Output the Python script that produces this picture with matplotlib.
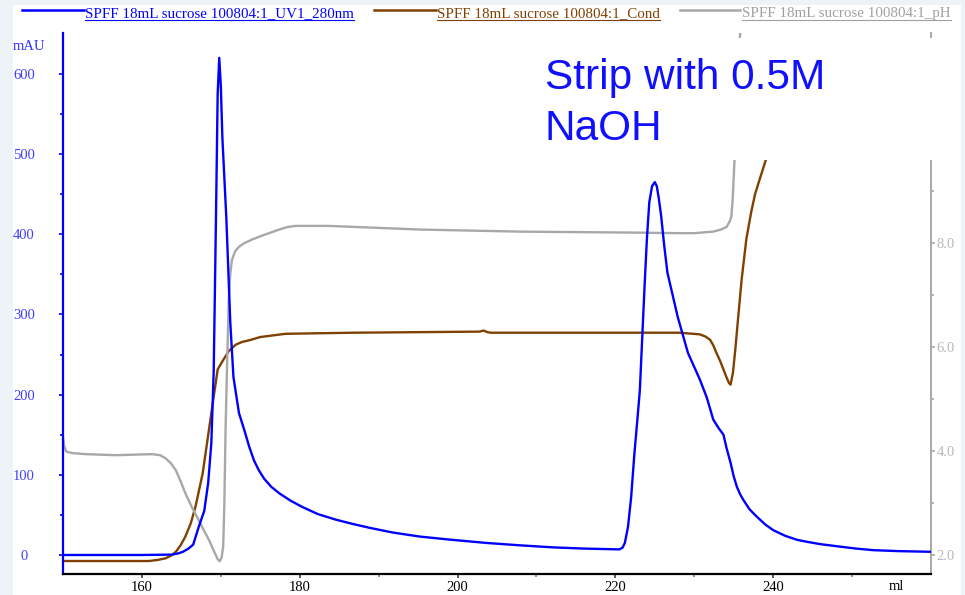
import matplotlib
matplotlib.use('Agg')
import matplotlib.pyplot as plt
from matplotlib.lines import Line2D
from matplotlib.patches import Rectangle

# UV 280 nm trace (ml, mAU)
uv_ml = [150, 160, 163.8, 164.6, 165.2, 165.9, 166.5, 167.2, 167.9, 168.4,
         168.8, 169.1, 169.4, 169.6, 169.8, 170.0, 170.2, 170.7, 171.2, 171.6,
         172.3, 173.0, 173.6, 174.2, 174.8, 175.5, 176.4, 177.4, 178.8, 180.3,
         182.3, 184.6, 186.6, 188.8, 191.8, 195.2, 199.2, 203.7, 208.0, 212.1,
         216.0, 220.5, 220.9, 221.2, 221.6, 222.0, 222.4, 222.8, 223.1, 223.4,
         223.7, 224.0, 224.3, 224.65, 225.0, 225.25, 225.5, 225.8, 226.2, 226.6,
         227.9, 229.2, 230.7, 231.6, 232.4, 233.1, 233.7, 234.1, 234.6, 235.0,
         235.4, 235.8, 236.2, 237.0, 237.9, 239.0, 240.0, 241.5, 243.0, 244.2,
         246.0, 248.5, 250.5, 252.7, 256.0, 260.0]
uv_mau = [0, 0, 0.5, 2, 4, 8, 13, 35, 55, 90,
          140, 230, 430, 575, 620, 585, 520, 420, 290, 222,
          177, 155, 135, 118, 106, 95, 85, 77, 68, 60,
          51, 44, 39, 34, 28, 23, 19, 15, 12, 9.5,
          8, 7, 9, 15, 35, 72, 125, 170, 205, 270,
          335, 395, 440, 460, 465, 460, 445, 423, 385, 352,
          297, 252, 219, 196, 169, 158, 150, 133, 115, 98,
          85, 76, 69, 57, 48, 38, 31, 24, 19, 16.6,
          13.5, 10.4, 8, 6, 4.8, 4]

# conductivity trace (ml, relative units on its own hidden 0-100 scale)
cond_ml = [150, 160.9, 162.0, 163.0, 163.7, 164.3, 164.9, 165.5, 166.2, 166.8,
           167.7, 168.5, 169.1, 169.6, 170.2, 171.0, 171.9, 172.7, 173.6, 175.0,
           178.2, 186.7, 202.8, 203.3, 203.8, 204.2, 223.1, 228.1, 230.7, 231.4,
           232.0, 232.4, 232.8, 233.3, 233.7, 234.1, 234.4, 234.6, 234.9, 235.2,
           235.5, 236.0, 236.6, 237.2, 237.7, 238.3, 239.1, 240.5]
cond_val = [2.4, 2.4, 2.6, 2.9, 3.4, 4.1, 5.3, 6.9, 9.4, 12.5,
            18.6, 26.7, 32.8, 37.8, 39.3, 41.2, 42.4, 42.9, 43.2, 43.8,
            44.4, 44.6, 44.8, 45.0, 44.7, 44.6, 44.6, 44.6, 44.3, 43.9,
            43.3, 42.3, 40.9, 39.3, 37.8, 36.3, 35.3, 35.0, 37.2, 41.5,
            46.4, 54.4, 61.9, 66.8, 70.2, 73.0, 76.7, 84.0]

# pH trace (ml, pH)
ph_ml = [150.0, 150.15, 150.4, 151.2, 152.9, 156.7, 161.3, 162.3, 163.0, 163.7,
         164.3, 164.9, 165.5, 166.3, 167.2, 167.9, 168.5, 169.2, 169.6, 169.85,
         170.1, 170.3, 170.45, 170.6, 170.8, 171.0, 171.2, 171.4, 171.8, 172.3,
         173.0, 174.0, 175.0, 176.1, 177.4, 178.5, 179.5, 183.7, 195.2, 207.9,
         223.1, 228.1, 230.0, 232.4, 233.4, 234.1, 234.5, 234.7, 234.85, 234.95,
         235.1, 235.4, 236.0]
ph_val = [4.27, 4.10, 3.99, 3.96, 3.94, 3.92, 3.94, 3.92, 3.86, 3.76,
          3.63, 3.42, 3.19, 2.93, 2.67, 2.46, 2.29, 2.05, 1.92, 1.88,
          1.95, 2.16, 3.00, 4.40, 5.69, 6.90, 7.40, 7.67, 7.84, 7.93,
          8.00, 8.07, 8.13, 8.19, 8.26, 8.31, 8.33, 8.33, 8.26, 8.22,
          8.20, 8.19, 8.19, 8.22, 8.26, 8.31, 8.42, 8.51, 8.80, 9.10,
          9.60, 11.0, 12.5]

x_major = [160, 180, 200, 220, 240]
x_minor = [170, 190, 210, 230, 250]
uv_major = [0, 100, 200, 300, 400, 500, 600]
uv_minor = [50, 150, 250, 350, 450, 550]
ph_major = [2, 4, 6, 8]
ph_minor = [3, 5, 7, 9]

legend_names = ['SPFF 18mL sucrose 100804:1_UV1_280nm',
                'SPFF 18mL sucrose 100804:1_Cond',
                'SPFF 18mL sucrose 100804:1_pH']

W, H = 965, 595
BLUE = '#0000ff'
BROWN = '#804000'
GRAY = '#a8a8a8'
SERIF = 'Liberation Serif'


def fx(px):
    return px / W


def fy(py):
    return 1 - py / H


fig = plt.figure(figsize=(W / 100, H / 100), dpi=100, facecolor='#eef3f8')
fig.patches.append(Rectangle((fx(13), 0), fx(961) - fx(13), fy(5),
                             transform=fig.transFigure, facecolor='white',
                             edgecolor='none', zorder=-10))

ax = fig.add_axes([fx(63), fy(574), fx(931) - fx(63), fy(33) - fy(574)])
ax_ph = ax.twinx()
ax_cond = ax.twinx()
ax.set_zorder(3)
ax_ph.set_zorder(2)
ax_cond.set_zorder(1)
ax.patch.set_visible(False)

line_kw = dict(lw=1.7, solid_joinstyle='round', solid_capstyle='round')
ax_cond.plot(cond_ml, cond_val, color=BROWN, **line_kw)
ax_ph.plot(ph_ml, ph_val, color=GRAY, **line_kw)
ax.plot(uv_ml, uv_mau, color=BLUE, **line_kw)

ax.set_xlim(150, 260)
ax.set_ylim(-23.7, 651)
ax_ph.set_ylim(1.635, 12.04)
ax_cond.set_ylim(0, 100)

# spines
for a in (ax, ax_ph, ax_cond):
    a.spines['top'].set_visible(False)
ax.spines['right'].set_visible(False)
ax.spines['left'].set_color(BLUE)
ax.spines['left'].set_linewidth(1.6)
ax.spines['bottom'].set_color('black')
ax.spines['bottom'].set_linewidth(1.6)
for s in ('left', 'bottom'):
    ax_ph.spines[s].set_visible(False)
ax_ph.spines['right'].set_color(GRAY)
ax_ph.spines['right'].set_linewidth(1.4)
for s in ax_cond.spines.values():
    s.set_visible(False)
ax_cond.set_yticks([])

# ticks
ax.set_xticks(x_major)
ax.set_xticks(x_minor, minor=True)
ax.set_yticks(uv_major)
ax.set_yticks(uv_minor, minor=True)
ax_ph.set_yticks(ph_major)
ax_ph.set_yticks(ph_minor, minor=True)
ax_ph.set_yticklabels(['%.1f' % v for v in ph_major])

ax.tick_params(axis='x', which='major', length=3, width=1.2, color='#404040',
               labelsize=10.5, pad=2)
ax.tick_params(axis='x', which='minor', length=2, width=1.2, color='#808080')
ax.tick_params(axis='y', which='major', length=3, width=1.2, color=BLUE,
               labelcolor='#4040ff', labelsize=10.5, pad=25)
ax.tick_params(axis='y', which='minor', length=2, width=1.2, color=BLUE)
ax_ph.tick_params(axis='y', which='major', length=3, width=1.2, color=GRAY,
                  labelcolor='#b8b8b8', labelsize=10.5, pad=1)
ax_ph.tick_params(axis='y', which='minor', length=2, width=1.2, color=GRAY)

for lab in ax.get_yticklabels():
    lab.set_ha('center')
for lab in ax.get_xticklabels() + ax.get_yticklabels() + ax_ph.get_yticklabels():
    lab.set_family(SERIF)

fig.text(fx(13), fy(47), 'mAU', ha='left', va='center', color='#3030ff',
         fontsize=10.5, family=SERIF)
fig.text(fx(889), fy(587), 'ml', ha='left', va='center', color='black',
         fontsize=10.5, family=SERIF)

# legend row across the top, underlined like links
legend_items = [(BLUE, 22, 84, 85, BLUE), (BROWN, 374, 436, 437, BROWN),
                (GRAY, 680, 740, 742, '#a0a0a0')]
legend_texts = []
for (col, x0, x1, xt, tcol), name in zip(legend_items, legend_names):
    fig.lines.append(Line2D([fx(x0), fx(x1)], [fy(10), fy(10)], color=col,
                            lw=1.8, transform=fig.transFigure))
    t = fig.text(fx(xt), fy(17.5), name, ha='left', va='baseline', color=tcol,
                 fontsize=10.8, family=SERIF)
    legend_texts.append((t, tcol))

# white note box hides the traces behind the annotation
fig.patches.append(Rectangle((fx(535), fy(160)), fx(945) - fx(535), fy(38) - fy(160),
                             transform=fig.transFigure, facecolor='white',
                             edgecolor='none', zorder=5))
fig.text(fx(545), fy(58), 'Strip with 0.5M\nNaOH', ha='left', va='top',
         color='#1010ff', fontsize=30.5, family='Liberation Sans',
         linespacing=1.35, zorder=6)

fig.canvas.draw()
renderer = fig.canvas.get_renderer()
for t, tcol in legend_texts:
    bb = t.get_window_extent(renderer)
    fig.lines.append(Line2D([bb.x0 / W, bb.x1 / W], [fy(20), fy(20)],
                            color=tcol, lw=0.8, transform=fig.transFigure))

fig.savefig('out.png', dpi=100, facecolor=fig.get_facecolor())
